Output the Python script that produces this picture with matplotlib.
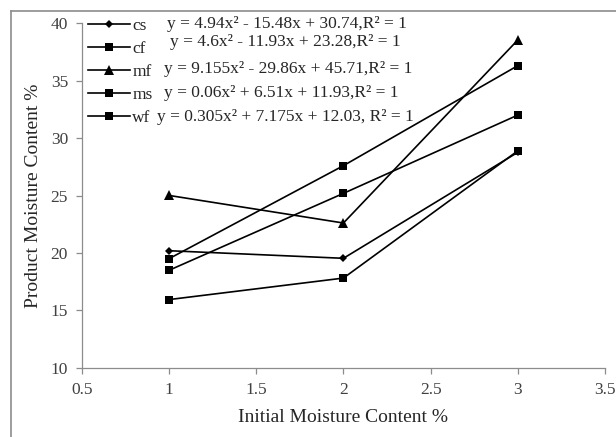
import matplotlib
matplotlib.use("Agg")
import matplotlib.pyplot as plt
from matplotlib.lines import Line2D

# data (values at x = 1, 2, 3)
initial_mc = [1, 2, 3]
cs = [20.20, 19.54, 28.76]
cf = [15.95, 17.82, 28.89]
mf = [25.01, 22.61, 38.53]
ms = [18.50, 25.19, 32.00]
wf = [19.51, 27.60, 36.30]

series_names = ["cs", "cf", "mf", "ms", "wf"]
series_markers = ["D", "s", "^", "s", "s"]
equations = [
    "y = 4.94x² - 15.48x + 30.74,R² = 1",
    "y = 4.6x² - 11.93x + 23.28,R² = 1",
    "y = 9.155x² - 29.86x + 45.71,R² = 1",
    "y = 0.06x² + 6.51x + 11.93,R² = 1",
    "y = 0.305x² + 7.175x + 12.03, R² = 1",
]

plt.rcParams["font.family"] = ["Liberation Serif", "DejaVu Serif"]
GRAY = "#8c8c8c"
TXT = "#404040"

fig = plt.figure(figsize=(6.16, 4.37), dpi=100)
ax = fig.add_axes([0.133, 0.158, 0.849, 0.789])

values = [cs, cf, mf, ms, wf]
msize = {"D": 4.5, "s": 6, "^": 6.5}
for name, mk, ys in zip(series_names, series_markers, values):
    ax.plot(initial_mc, ys, color="black", linewidth=1.2, marker=mk,
            markersize=msize[mk], markeredgewidth=0, label=name)

ax.set_xlim(0.5, 3.5)
ax.set_ylim(10, 40)
ax.set_xticks([0.5, 1, 1.5, 2, 2.5, 3, 3.5])
ax.set_xticklabels(["0.5", "1", "1.5", "2", "2.5", "3", "3.5"])
ax.set_yticks([10, 15, 20, 25, 30, 35, 40])

for side in ("top", "right"):
    ax.spines[side].set_visible(False)
for side in ("left", "bottom"):
    ax.spines[side].set_color(GRAY)
    ax.spines[side].set_linewidth(0.9)
ax.tick_params(direction="out", length=4, width=0.9, color=GRAY,
               labelsize=12.5, labelcolor=TXT, pad=6)

ax.set_xlabel("Initial Moisture Content %", fontsize=14, color="#262626", labelpad=8)
ax.set_ylabel("Product Moisture Content %", fontsize=14, color="#262626", labelpad=6)

leg = ax.legend(loc="upper left", bbox_to_anchor=(0.0115, 1.015), frameon=False,
                fontsize=12.5, handlelength=2.4, handletextpad=0.15,
                labelspacing=0.39, borderpad=0, borderaxespad=0)
for t in leg.get_texts():
    t.set_color("#262626")

eq_pos = [(0.163, 0.997), (0.168, 0.946), (0.157, 0.866), (0.157, 0.798), (0.143, 0.728)]
for eq, (ex, ey) in zip(equations, eq_pos):
    ax.text(ex, ey, eq, transform=ax.transAxes, fontsize=12.5, color="#262626",
            ha="left", va="center")

# outer chart border (left and top edges visible)
x0 = 10.5 / 616
y0 = 1 - 10.5 / 437
fig.add_artist(Line2D([x0, x0], [0, y0], transform=fig.transFigure, color=GRAY, linewidth=1.2))
fig.add_artist(Line2D([x0, 1], [y0, y0], transform=fig.transFigure, color=GRAY, linewidth=1.2))

fig.savefig("out.png", dpi=100)
